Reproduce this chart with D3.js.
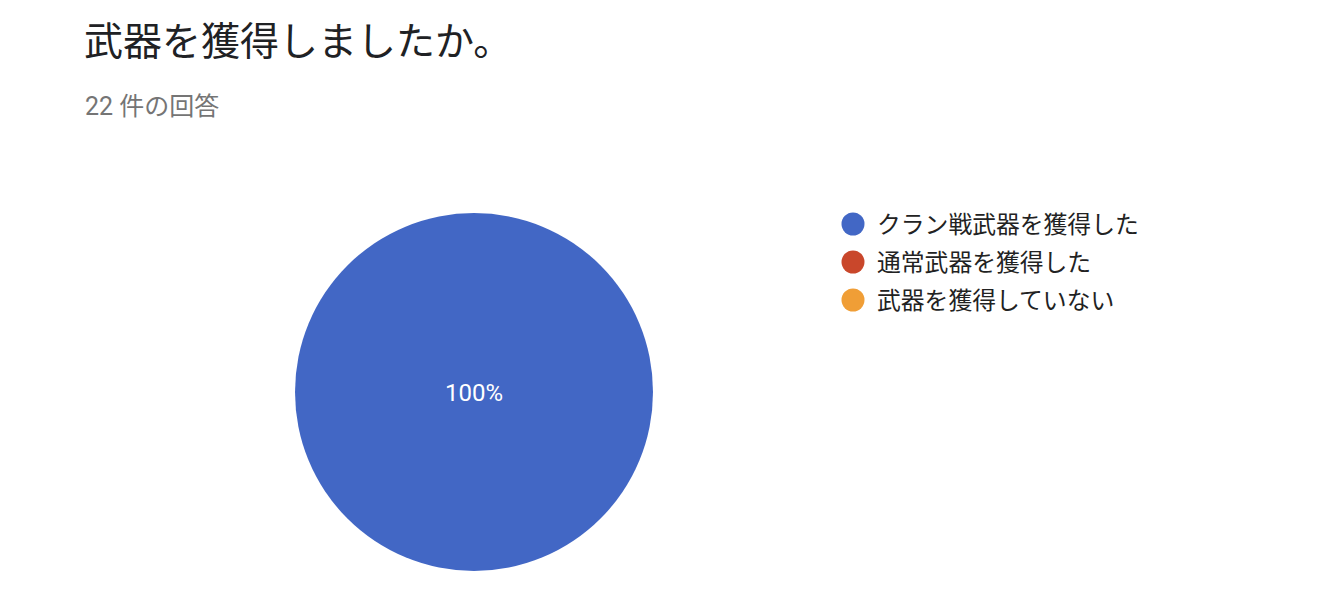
<!DOCTYPE html>
<html lang="ja">
<head>
<meta charset="utf-8">
<script src="https://cdn.jsdelivr.net/npm/d3@7"></script>
<style>
  html, body { margin: 0; padding: 0; background: #ffffff; }
  svg { display: block; font-family: Roboto, "Noto Sans CJK JP", sans-serif; }
  .title { font-size: 39px; fill: #202124; }
  .subtitle { font-size: 25px; fill: #757575; }
  .legend-label { font-size: 23.8px; fill: #222222; }
  .slice-label { font-size: 24px; fill: #ffffff; }
</style>
</head>
<body>
<svg id="chart" width="1334" height="592"></svg>
<script>
// Chart data
const title = '武器を獲得しましたか。';
const responseCount = 22;
const categories = ['クラン戦武器を獲得した', '通常武器を獲得した', '武器を獲得していない'];
const counts = [22, 0, 0];
const colors = ['#4267c5', '#c9472b', '#f09e36'];

const svg = d3.select('#chart');

// Header
svg.append('text')
    .attr('class', 'title')
    .attr('x', 84)
    .attr('y', 55)
    .text(title);

svg.append('text')
    .attr('class', 'subtitle')
    .attr('x', 85)
    .attr('y', 115)
    .text(`${responseCount} 件の回答`);

// Pie
const cx = 474, cy = 392, radius = 179;
const slices = categories.map((name, i) => ({ name, value: counts[i], color: colors[i] }));
const total = d3.sum(counts);

const pie = d3.pie().sort(null).value(d => d.value);
const arc = d3.arc().innerRadius(0).outerRadius(radius);
const labelArc = d3.arc().innerRadius(0).outerRadius(radius);

const pieGroup = svg.append('g').attr('transform', `translate(${cx},${cy})`);

const arcs = pie(slices).filter(d => d.value > 0);

pieGroup.selectAll('path.slice')
    .data(arcs)
    .enter()
    .append('path')
    .attr('class', 'slice')
    .attr('d', arc)
    .attr('fill', d => d.data.color);

pieGroup.selectAll('text.slice-label')
    .data(arcs)
    .enter()
    .append('text')
    .attr('class', 'slice-label')
    .attr('text-anchor', 'middle')
    .attr('dy', '0.35em')
    .attr('transform', d => {
        // full circle: keep label at centre
        if (d.endAngle - d.startAngle >= 2 * Math.PI - 1e-6) return 'translate(0,1)';
        const [x, y] = labelArc.centroid(d);
        return `translate(${x},${y})`;
    })
    .text(d => `${d3.format('.1~f')(d.value / total * 100)}%`);

// Legend
const legendY = d3.scaleBand()
    .domain(categories)
    .range([205, 319]);

const legend = svg.append('g').attr('class', 'legend');

const items = legend.selectAll('g.item')
    .data(slices)
    .enter()
    .append('g')
    .attr('class', 'item')
    .attr('transform', d => `translate(853,${legendY(d.name) + legendY.bandwidth() / 2})`);

items.append('circle')
    .attr('r', 11.5)
    .attr('fill', d => d.color);

items.append('text')
    .attr('class', 'legend-label')
    .attr('x', 24)
    .attr('dy', '0.36em')
    .text(d => d.name);
</script>
</body>
</html>
